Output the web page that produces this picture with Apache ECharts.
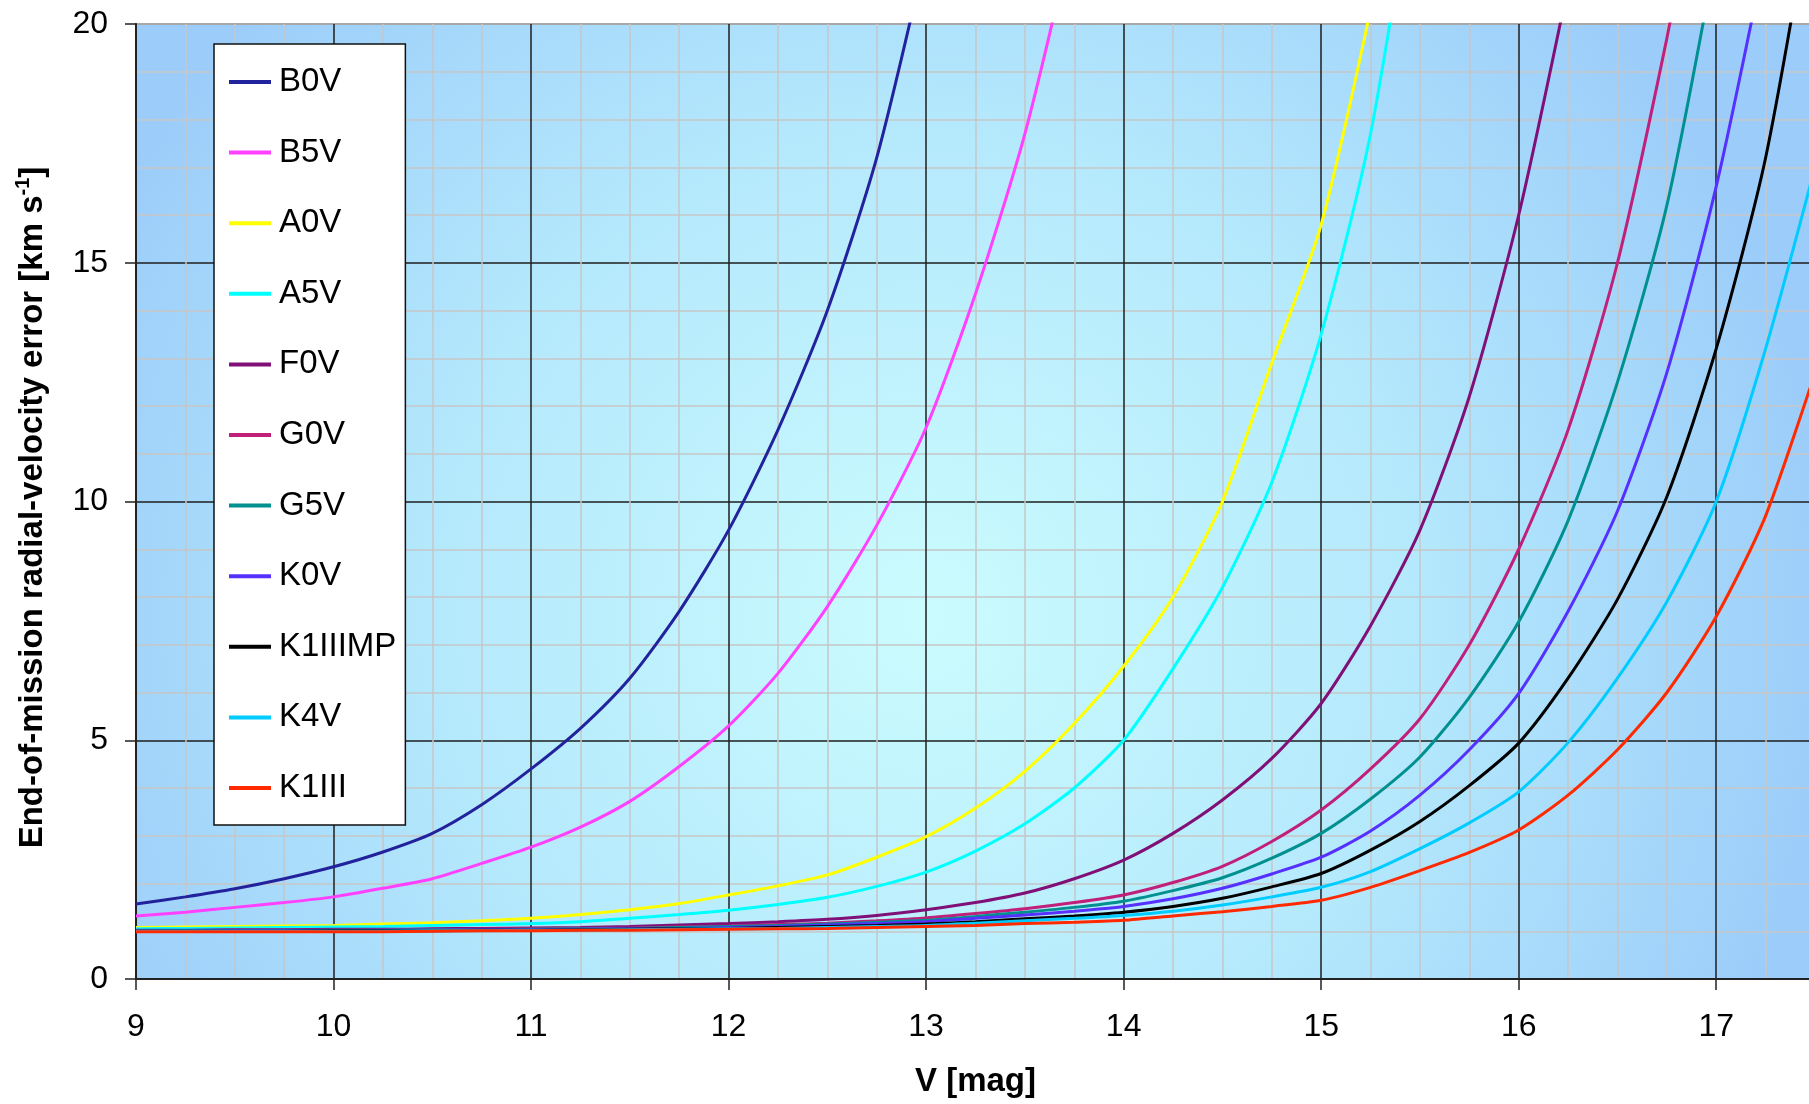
<!DOCTYPE html>
<html>
<head>
<meta charset="utf-8">
<script src="https://cdn.jsdelivr.net/npm/echarts@6/dist/echarts.min.js"></script>
<style>
  html, body { margin: 0; padding: 0; background: #fff; overflow: hidden; }
  #chart { width: 1815px; height: 1104px; }
</style>
</head>
<body>
<div id="chart"></div>
<script>
var vMag = [9, 9.25, 9.5, 9.75, 10, 10.25, 10.5, 10.75, 11, 11.25, 11.5, 11.75, 12, 12.25, 12.5, 12.75,
  13, 13.25, 13.5, 13.75, 14, 14.25, 14.5, 14.75, 15, 15.25, 15.5, 15.75, 16, 16.25, 16.5, 16.75, 17, 17.25, 17.5]

var names = ['B0V', 'B5V', 'A0V', 'A5V', 'F0V', 'G0V', 'G5V', 'K0V', 'K1IIIMP', 'K4V', 'K1III']
var colors = ['#22229c', '#ff40ff', '#ffff00', '#00ffff', '#801078', '#c0207a', '#009090', '#5530ff', '#000000', '#00ccff', '#ff2a00']

// end-of-mission radial-velocity error, km/s
var b0v = [1.57, 1.72, 1.89, 2.1, 2.35, 2.66, 3.05, 3.65, 4.4, 5.25, 6.3, 7.7, 9.4, 11.5, 14.0, 17.2, 21.5]
var b5v = [1.32, 1.4, 1.5, 1.6, 1.72, 1.9, 2.1, 2.42, 2.76, 3.18, 3.72, 4.45, 5.3, 6.4, 7.8, 9.5, 11.55, 14.35, 17.7, 22.0]
var a0v = [1.08, 1.09, 1.1, 1.11, 1.12, 1.15, 1.18, 1.22, 1.27, 1.35, 1.45, 1.58, 1.76, 1.95, 2.18, 2.55,
  2.98, 3.58, 4.35, 5.35, 6.55, 8.0, 10.0, 12.9, 15.8, 20.3]
var a5v = [1.05, 1.06, 1.07, 1.08, 1.09, 1.1, 1.12, 1.14, 1.16, 1.2, 1.27, 1.35, 1.44, 1.56, 1.71, 1.94,
  2.24, 2.68, 3.25, 4.0, 5.0, 6.5, 8.2, 10.4, 13.5, 17.7, 24.0]
var f0v = [1.02, 1.02, 1.03, 1.03, 1.04, 1.04, 1.05, 1.06, 1.07, 1.08, 1.1, 1.13, 1.16, 1.2, 1.25, 1.33,
  1.45, 1.6, 1.8, 2.1, 2.49, 3.05, 3.75, 4.62, 5.77, 7.4, 9.4, 12.2, 16.0, 20.8]
var g0v = [1.01, 1.01, 1.02, 1.02, 1.02, 1.03, 1.03, 1.04, 1.05, 1.06, 1.07, 1.09, 1.11, 1.14, 1.17, 1.22,
  1.28, 1.37, 1.47, 1.6, 1.76, 2.02, 2.36, 2.88, 3.54, 4.4, 5.45, 7.0, 9.0, 11.5, 15.0, 19.7, 25.0]
var g5v = [1.0, 1.01, 1.01, 1.01, 1.02, 1.02, 1.03, 1.03, 1.04, 1.05, 1.06, 1.08, 1.1, 1.12, 1.15, 1.19,
  1.23, 1.31, 1.4, 1.5, 1.63, 1.85, 2.12, 2.53, 3.05, 3.77, 4.65, 5.9, 7.48, 9.6, 12.5, 16.2, 21.5]
var k0v = [1.0, 1.0, 1.01, 1.01, 1.01, 1.02, 1.02, 1.03, 1.03, 1.04, 1.05, 1.06, 1.08, 1.1, 1.13, 1.16,
  1.2, 1.27, 1.34, 1.42, 1.52, 1.68, 1.9, 2.2, 2.55, 3.1, 3.85, 4.8, 5.98, 7.7, 9.8, 12.7, 16.6, 21.5]
var k1iiimp = [1.0, 1.0, 1.0, 1.0, 1.01, 1.01, 1.01, 1.02, 1.02, 1.03, 1.04, 1.05, 1.06, 1.08, 1.1, 1.12,
  1.15, 1.2, 1.26, 1.32, 1.4, 1.52, 1.69, 1.93, 2.21, 2.7, 3.3, 4.05, 4.94, 6.3, 7.95, 10.1, 13.2, 17.2, 23.0]
var k4v = [1.0, 1.0, 1.0, 1.0, 1.0, 1.0, 1.01, 1.01, 1.02, 1.02, 1.03, 1.04, 1.05, 1.06, 1.08, 1.1,
  1.12, 1.17, 1.22, 1.27, 1.33, 1.42, 1.55, 1.72, 1.92, 2.25, 2.73, 3.27, 3.92, 4.95, 6.3, 7.9, 10.0, 13.2, 17.0]
var k1iii = [0.99, 0.99, 0.99, 0.99, 0.99, 0.99, 1.0, 1.01, 1.01, 1.02, 1.02, 1.03, 1.04, 1.05, 1.06, 1.08,
  1.1, 1.12, 1.16, 1.19, 1.23, 1.32, 1.41, 1.52, 1.65, 1.92, 2.27, 2.65, 3.12, 3.85, 4.8, 6.0, 7.59, 9.7, 12.7]

var curves = [b0v, b5v, a0v, a5v, f0v, g0v, g5v, k0v, k1iiimp, k4v, k1iii]

var font = "'Liberation Sans', Arial, sans-serif"
var myChart = echarts.init(document.getElementById('chart'))

var series = curves.map(function (vals, i) {
  return {
    name: names[i],
    type: 'line',
    data: vals.map(function (v, j) { return [vMag[j], v] }),
    showSymbol: false,
    smooth: 0.25,
    lineStyle: { color: colors[i], width: 3 },
    itemStyle: { color: colors[i] },
    emphasis: { disabled: true }
  }
})

var option = {
  animation: false,
  textStyle: { fontFamily: font },
  grid: {
    left: 136, right: 0, top: 24, bottom: 125,
    outerBoundsMode: 'none',
    show: true,
    borderColor: '#a8a8a8',
    borderWidth: 2,
    backgroundColor: {
      type: 'radial', x: 0.47, y: 0.62, r: 0.95,
      colorStops: [
        { offset: 0, color: '#cafcfe' },
        { offset: 0.55, color: '#b4e8fc' },
        { offset: 1, color: '#9ccdfa' }
      ]
    }
  },
  legend: {
    orient: 'vertical',
    left: 214, top: 44,
    padding: [18, 9, 17, 15],
    itemGap: 30.6,
    itemWidth: 42, itemHeight: 4,
    icon: 'rect',
    backgroundColor: '#fff',
    borderColor: '#111',
    borderWidth: 1.5,
    textStyle: { fontFamily: font, fontSize: 33, color: '#000', lineHeight: 40, padding: [0, 0, 0, 3] },
    data: names
  },
  xAxis: {
    type: 'value',
    min: 9, max: 17.5, interval: 1,
    name: 'V [mag]',
    nameLocation: 'middle',
    nameGap: 86,
    nameTextStyle: { fontFamily: font, fontSize: 33, fontWeight: 'bold', color: '#000' },
    axisLine: { onZero: false, lineStyle: { color: '#222', width: 2 } },
    axisTick: { length: 11, lineStyle: { color: '#222', width: 1.5 } },
    axisLabel: {
      fontFamily: font, fontSize: 32, color: '#000', margin: 32,
      formatter: function (v) { return v % 1 === 0 ? String(v) : '' }
    },
    splitLine: { show: true, lineStyle: { color: '#1e1e1e', width: 1.5 } },
    minorTick: { show: false, splitNumber: 4 },
    minorSplitLine: { show: true, lineStyle: { color: '#c6c6c6', width: 1.5 } }
  },
  yAxis: {
    type: 'value',
    min: 0, max: 20, interval: 5,
    name: 'End-of-mission radial-velocity error [km s{sup|-1}]',
    nameLocation: 'middle',
    nameGap: 83,
    nameTextStyle: {
      fontFamily: font, fontSize: 33, fontWeight: 'bold', color: '#000',
      padding: [0, 12, 0, 0],
      rich: {
        sup: { fontFamily: font, fontSize: 20, fontWeight: 'bold', color: '#000', verticalAlign: 'top', lineHeight: 40 }
      }
    },
    axisLine: { show: true, lineStyle: { color: '#222', width: 2 } },
    axisTick: { show: true, length: 11, lineStyle: { color: '#222', width: 1.5 } },
    axisLabel: { fontFamily: font, fontSize: 32, color: '#000', margin: 28 },
    splitLine: { show: true, lineStyle: { color: ['#1e1e1e', '#1e1e1e', '#1e1e1e', '#1e1e1e', '#a8a8a8'], width: 1.5 } },
    minorTick: { show: false, splitNumber: 5 },
    minorSplitLine: { show: true, lineStyle: { color: '#c6c6c6', width: 1.5 } }
  },
  series: series
}

myChart.setOption(option)
</script>
</body>
</html>
